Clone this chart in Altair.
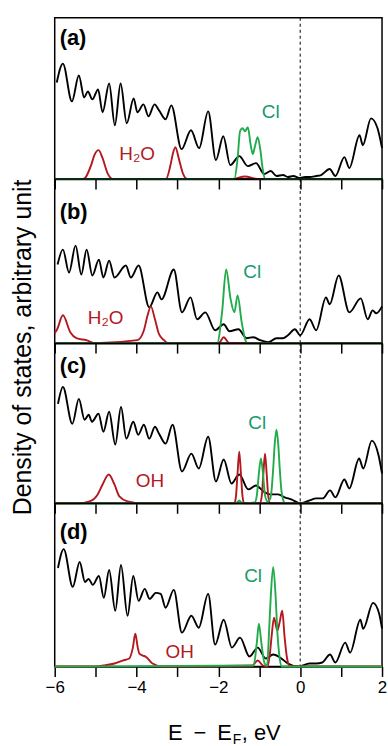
import altair as alt
import pandas as pd

FONT = "Liberation Sans"
RED = "#b3191f"
GREEN = "#22ab4a"
GREEN_TXT = "#17996a"

# ---------------- panel (a) ----------------
a_tot_e = [-5.95, -5.80, -5.58, -5.41, -5.28, -5.19, -5.08, -4.94, -4.83, -4.67,
           -4.53, -4.39, -4.24, -4.07, -3.98, -3.83, -3.71, -3.56, -3.45, -3.29,
           -3.15, -2.90, -2.67, -2.47, -2.25, -2.06, -1.88, -1.71, -1.49, -1.28,
           -1.08, -0.88, -0.72, -0.58, -0.42, -0.30, -0.17, 0.0, 0.12, 0.23,
           0.39, 0.51, 0.72, 0.86, 1.08, 1.20, 1.45, 1.53, 1.73, 1.89, 2.0]
a_tot_v = [97, 116, 78, 104, 82, 88, 80, 90, 67, 96,
           54, 96, 56, 81, 67, 75, 63, 75, 69, 60,
           74, 30, 49, 31, 68, 19, 43, 14, 23, 13,
           16, 5, 8, 3, 4, 2, 3, 1, 2, 2,
           3, 4, 10, 3, 22, 11, 44, 34, 61, 51, 31]
a_red_e = [-6.0, -5.30, -5.11, -5.03, -4.93, -4.83, -4.71, -4.58, -3.28, -3.17,
           -3.11, -3.05, -2.97, -2.87, -2.76, -1.65, -1.35, -1.05, 2.0]
a_red_v = [0, 0, 14, 24, 29, 21, 6, 0, 0, 14, 26, 32, 21, 6, 0, 0, 2.5, 0, 0]
a_cl_e = [-6.0, -1.61, -1.53, -1.47, -1.41, -1.35, -1.28, -1.21, -1.16, -1.10,
          -1.04, -0.98, -0.92, -0.86, 2.0]
a_cl_v = [0, 0, 21, 48, 51, 48, 52, 34, 25, 34, 42, 31, 11, 0, 0]
a_lbl_t = ["H\u2082O", "Cl"]
a_lbl_e = [-4.42, -0.94]
a_lbl_v = [19, 61]
a_lbl_c = [RED, GREEN_TXT]

# ---------------- panel (b) ----------------
b_tot_e = [-5.93, -5.80, -5.65, -5.49, -5.35, -5.22, -5.08, -4.92, -4.81, -4.67,
           -4.54, -4.26, -4.14, -3.95, -3.69, -3.49, -3.39, -3.09, -2.89, -2.68,
           -2.52, -2.32, -2.08, -1.87, -1.73, -1.51, -1.31, -1.15, -0.98, -0.78,
           -0.58, -0.42, -0.30, -0.13, 0.0, 0.23, 0.39, 0.63, 0.72, 0.94,
           1.20, 1.48, 1.65, 1.77, 1.86, 2.0]
b_tot_v = [79, 94, 71, 98, 69, 94, 68, 84, 66, 83,
           66, 78, 66, 78, 36, 51, 44, 74, 31, 46,
           24, 31, 13, 19, 12, 14, 5, 6, 3, 1,
           5, 5, 8, 14, 8, 24, 13, 46, 39, 68,
           31, 45, 24, 33, 30, 37]
b_red_e = [-6.0, -5.94, -5.80, -5.62, -5.47, -5.23, -5.0, -3.98, -3.82, -3.73,
           -3.65, -3.55, -3.45, -3.33, -3.23, -1.99, -1.87, -1.73, 2.0]
b_red_v = [10, 14, 28, 11, 5, 3, 0, 3, 13, 28, 37, 24, 9, 3, 0, 0, 6, 0, 0]
b_cl_e = [-6.0, -2.03, -1.91, -1.81, -1.70, -1.61, -1.53, -1.43, -1.32, -1.28, 2.0]
b_cl_v = [0, 0, 31, 74, 44, 31, 48, 21, 1, 0, 0]
b_lbl_t = ["H\u2082O", "Cl"]
b_lbl_e = [-5.19, -1.39]
b_lbl_v = [19, 66]
b_lbl_c = [RED, GREEN_TXT]

# ---------------- panel (c) ----------------
c_tot_e = [-5.92, -5.80, -5.57, -5.41, -5.27, -5.17, -5.09, -4.93, -4.81, -4.67,
           -4.52, -4.38, -4.25, -4.08, -3.96, -3.82, -3.69, -3.55, -3.45, -3.29,
           -3.12, -2.89, -2.66, -2.48, -2.25, -2.06, -1.87, -1.68, -1.49, -1.27,
           -1.08, -0.90, -0.74, -0.54, -0.38, -0.22, 0.0, 0.23, 0.39, 0.55,
           0.73, 0.86, 1.08, 1.20, 1.44, 1.54, 1.75, 1.91, 2.0]
c_tot_v = [100, 117, 80, 105, 84, 89, 82, 90, 72, 92,
           59, 97, 65, 82, 69, 79, 65, 77, 70, 60,
           79, 32, 50, 35, 67, 22, 44, 20, 29, 14,
           18, 12, 9, 9, 6, 4, 0, 3, 5, 5,
           13, 6, 24, 15, 45, 35, 63, 49, 30]
c_red_e = [-6.0, -5.43, -5.15, -4.95, -4.83, -4.68, -4.54, -4.42, -4.22, -3.85,
           -1.61, -1.57, -1.53, -1.49, -1.45, -1.41, -1.37,
           -0.99, -0.94, -0.90, -0.86, -0.82, -0.78, -0.73, 2.0]
c_red_v = [0, 0, 2, 9, 19, 29, 19, 7, 2, 0,
           0, 7, 31, 52, 31, 7, 0,
           0, 7, 30, 50, 30, 7, 0, 0]
c_cl_e = [-6.0, -1.56, -1.49, -1.42, -1.11, -1.06, -1.01, -0.96, -0.91, -0.86,
          -0.80, -0.74, -0.70, -0.66, -0.62, -0.58, -0.54, -0.50, -0.46, -0.42,
          -0.37, 2.0]
c_cl_v = [0, 0, 3, 0, 1, 8, 30, 45, 30, 8,
          2, 4, 13, 35, 61, 74, 61, 35, 13, 4,
          0, 0]
c_lbl_t = ["OH", "Cl"]
c_lbl_e = [-4.02, -1.27]
c_lbl_v = [16, 75]
c_lbl_c = [RED, GREEN_TXT]

# ---------------- panel (d) ----------------
d_tot_e = [-5.92, -5.78, -5.56, -5.39, -5.26, -5.17, -5.07, -4.92, -4.80, -4.67,
           -4.52, -4.38, -4.22, -4.08, -3.95, -3.80, -3.68, -3.53, -3.41, -3.29,
           -3.09, -2.89, -2.66, -2.48, -2.25, -2.08, -1.87, -1.67, -1.47, -1.24,
           -1.04, -0.84, -0.66, -0.46, -0.30, -0.05, 0.23, 0.39, 0.54, 0.73,
           0.86, 1.10, 1.22, 1.47, 1.54, 1.78, 1.93, 2.0]
d_tot_v = [99, 118, 80, 105, 85, 88, 82, 91, 69, 97,
           56, 102, 51, 91, 66, 78, 68, 74, 73, 59,
           77, 34, 51, 39, 73, 22, 47, 19, 29, 10,
           19, 8, 12, 8, 3, 0, 3, 3, 4, 12,
           4, 24, 14, 47, 38, 64, 53, 38]
d_red_e = [-6.0, -5.0, -4.80, -4.54, -4.34, -4.18, -4.09, -4.03, -3.97, -3.93,
           -3.85, -3.78, -3.61, -3.37, -1.17, -1.04, -0.91, -0.80, -0.74, -0.70,
           -0.64, -0.56, -0.50, -0.44, -0.38, -0.32, -0.25, 2.0]
d_red_v = [0, 0, 1, 3, 6, 8, 19, 33, 19, 13,
           11, 10, 3, 0, 1, 6, 1, 0, 13, 30,
           49, 36, 45, 56, 29, 8, 0, 0]
d_cl_e = [-6.0, -1.14, -1.06, -1.01, -0.95, -0.87, -0.81, -0.76, -0.72, -0.66,
          -0.60, -0.56, -0.50, -0.45, 2.0]
d_cl_v = [0, 1, 24, 43, 24, 3, 1, 36, 70, 100, 70, 36, 8, 0, 0]
d_lbl_t = ["OH", "Cl"]
d_lbl_e = [-3.29, -1.37]
d_lbl_v = [9, 85]
d_lbl_c = [RED, GREEN_TXT]

panel_names = ["(a)", "(b)", "(c)", "(d)"]
panel_name_e = [-5.88, -5.88, -5.88, -5.88]
panel_name_v = [135, 125, 131, 128]
panel_heights = [162, 165, 161, 164]

tick_values = [-6, -5, -4, -3, -2, -1, 0, 1, 2]

W = 329
xscale = alt.Scale(domain=[-6, 2], nice=False, zero=False)


def make_axis(show_labels):
    return alt.Axis(values=tick_values, title=None, grid=False, labels=show_labels,
                    labelExpr="datum.value % 2 === 0 ? datum.label : ''",
                    labelFlush=False, labelOverlap=False)


def panel(i, tot, red, cl, lbl, last):
    H = panel_heights[i]
    ys = alt.Scale(domain=[0, H], nice=False, zero=True)
    ax = make_axis(last)
    X = alt.X("E:Q", scale=xscale, axis=ax)
    Y = alt.Y("v:Q", scale=ys, axis=None)

    def line(e, v, color):
        df = pd.DataFrame({"E": e, "v": v})
        return alt.Chart(df).mark_line(color=color, strokeWidth=1.9,
                                       interpolate="monotone").encode(x=X, y=Y)

    zero = alt.Chart(pd.DataFrame({"E": [0]})).mark_rule(
        color="black", strokeWidth=1, strokeDash=[3, 3]).encode(x=X)
    black = line(tot[0], tot[1], "black")
    redl = line(red[0], red[1], RED)
    greenl = line(cl[0], cl[1], GREEN)
    lab_df = pd.DataFrame({"E": lbl[0], "v": lbl[1], "t": lbl[2], "c": lbl[3]})
    labels = alt.Chart(lab_df).mark_text(align="left", baseline="alphabetic",
                                         font=FONT, fontSize=19).encode(
        x=X, y=Y, text="t:N", color=alt.Color("c:N", scale=None))
    name_df = pd.DataFrame({"E": [panel_name_e[i]], "v": [panel_name_v[i]],
                            "t": [panel_names[i]]})
    name = alt.Chart(name_df).mark_text(align="left", baseline="alphabetic",
                                        font=FONT, fontSize=22, fontWeight="bold",
                                        color="black").encode(x=X, y=Y, text="t:N")
    layers = [zero, black, redl, greenl, labels, name]
    if last:
        dummy = pd.DataFrame({"k": [0]})
        t1 = alt.Chart(dummy).mark_text(text="E\u2002\u2212\u2002E", align="right",
                                        baseline="alphabetic", font=FONT, fontSize=22,
                                        color="black").encode(x=alt.value(178), y=alt.value(238))
        t2 = alt.Chart(dummy).mark_text(text="F", align="left", baseline="alphabetic",
                                        font=FONT, fontSize=14,
                                        color="black").encode(x=alt.value(179), y=alt.value(242))
        t3 = alt.Chart(dummy).mark_text(text=", eV", align="left", baseline="alphabetic",
                                        font=FONT, fontSize=22,
                                        color="black").encode(x=alt.value(188), y=alt.value(238))
        layers += [t1, t2, t3]
    return alt.layer(*layers).properties(width=W, height=H)


pa = panel(0, (a_tot_e, a_tot_v), (a_red_e, a_red_v), (a_cl_e, a_cl_v),
           (a_lbl_e, a_lbl_v, a_lbl_t, a_lbl_c), False)
pb = panel(1, (b_tot_e, b_tot_v), (b_red_e, b_red_v), (b_cl_e, b_cl_v),
           (b_lbl_e, b_lbl_v, b_lbl_t, b_lbl_c), False)
pc = panel(2, (c_tot_e, c_tot_v), (c_red_e, c_red_v), (c_cl_e, c_cl_v),
           (c_lbl_e, c_lbl_v, c_lbl_t, c_lbl_c), False)
pd_ = panel(3, (d_tot_e, d_tot_v), (d_red_e, d_red_v), (d_cl_e, d_cl_v),
            (d_lbl_e, d_lbl_v, d_lbl_t, d_lbl_c), True)

chart = alt.vconcat(pa, pb, pc, pd_, spacing=0, bounds="flush").properties(
    title=alt.TitleParams(text="Density of states, arbitrary unit", orient="left",
                          anchor="middle", font=FONT, fontSize=25,
                          fontWeight="normal", color="black", offset=8, dx=35),
    padding={"left": 11, "top": 14, "right": 0, "bottom": 0},
    background="white",
).configure_view(stroke="black", strokeWidth=1.5).configure_axis(
    domainColor="black", domainWidth=1.5, tickColor="black", tickWidth=1.5,
    tickSize=10, labelFont=FONT, labelFontSize=17, labelColor="black",
    labelPadding=3,
)

chart.save("out.html", embed_options={"renderer": "svg", "actions": False})
